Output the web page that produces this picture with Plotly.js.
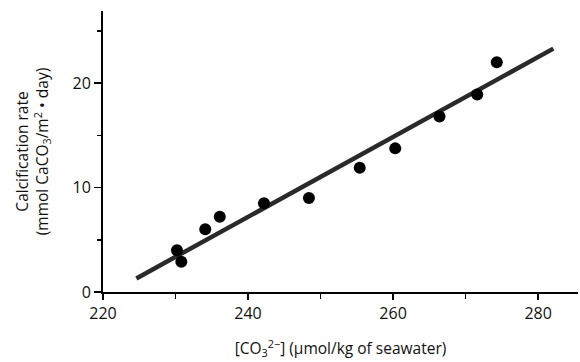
<!DOCTYPE html>
<html>
<head>
<meta charset="utf-8">
<script src="https://cdn.plot.ly/plotly-3.0.1.min.js"></script>
<style>html,body{margin:0;padding:0;background:#fff;}#chart{width:580px;height:362px;}</style>
</head>
<body>
<div id="chart"></div>
<script>
// Observed data points
const carbonate = [230.2, 230.8, 234.1, 236.1, 242.2, 248.4, 255.4, 260.3, 266.4, 271.6, 274.3];
const calcRate  = [4.0, 2.9, 6.0, 7.2, 8.5, 9.0, 11.9, 13.75, 16.8, 18.9, 22.0];
// Regression line endpoints
const fitX = [224.6, 282.1];
const fitY = [1.3, 23.3];
// Tick labels
const xTicks = [220, 240, 260, 280];
const yTicks = [0, 10, 20];

const font = "Open Sans, Noto Sans, sans-serif";

const traces = [
  {x: fitX, y: fitY, mode: 'lines', type: 'scatter',
   line: {color: '#2a2a2a', width: 4.5}, hoverinfo: 'skip', showlegend: false},
  {x: carbonate, y: calcRate, mode: 'markers', type: 'scatter',
   marker: {color: '#000', size: 12}, showlegend: false}
];

const layout = {
  width: 580, height: 362,
  margin: {l: 103, r: 2, t: 11, b: 70},
  paper_bgcolor: '#fff', plot_bgcolor: '#fff',
  font: {family: font, color: '#111', size: 16},
  xaxis: {
    range: [220, 285.5], tickvals: xTicks, ticktext: xTicks.map(String),
    showgrid: false, zeroline: false, showline: true, linecolor: '#000', linewidth: 2,
    ticks: 'outside', ticklen: 6, tickwidth: 1.5, tickcolor: '#000',
    tickfont: {size: 16, family: font, color: '#111'},
    minor: {tickvals: [230, 250, 270], ticks: 'outside', ticklen: 5, tickwidth: 1.5, tickcolor: '#000', showgrid: false},
    title: {text: '[CO<sub>3</sub><sup>2−</sup>] (µmol/kg of seawater)', font: {size: 15.5, family: font, color: '#111'}, standoff: 20}
  },
  yaxis: {
    range: [0, 26.9], tickvals: yTicks, ticktext: yTicks.map(String),
    showgrid: false, zeroline: false, showline: true, linecolor: '#000', linewidth: 2,
    ticks: 'outside', ticklen: 7, tickwidth: 1.5, tickcolor: '#000',
    tickfont: {size: 16, family: font, color: '#111'},
    minor: {tickvals: [5, 15, 25], ticks: 'outside', ticklen: 4, tickwidth: 1.5, tickcolor: '#000', showgrid: false},
    title: {text: 'Calcification rate<br>(mmol CaCO<sub>3</sub>/m<sup>2</sup> • day)', font: {size: 15.5, family: font, color: '#111'}, standoff: 20}
  }
};

Plotly.newPlot('chart', traces, layout, {displayModeBar: false, staticPlot: true});
</script>
</body>
</html>
